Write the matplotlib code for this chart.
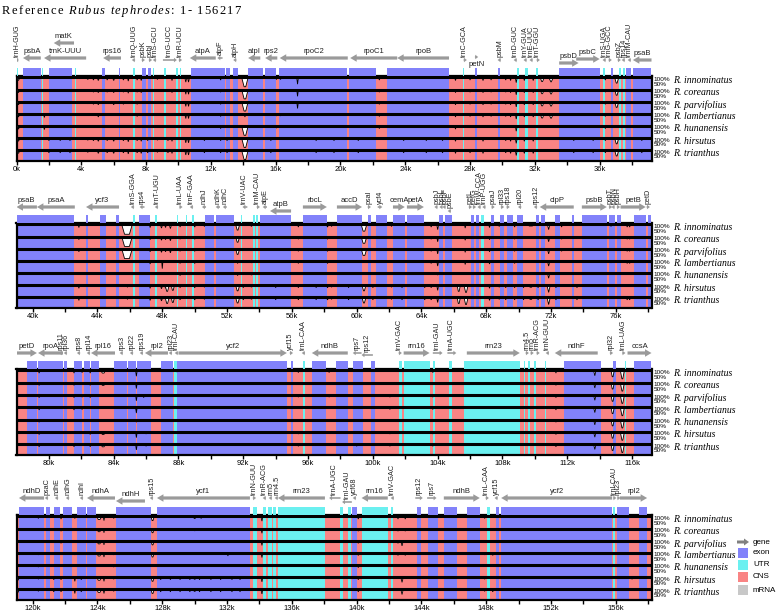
import matplotlib.pyplot as plt
from matplotlib.patches import Polygon
from matplotlib.transforms import IdentityTransform

plt.rcParams['font.family'] = ['Liberation Sans', 'DejaVu Sans']

EXON = '#8282FA'
UTR = '#6BF0F0'
CNS = '#F98484'
MRNA = '#C8C8C8'
ARROW = '#9A9A9A'
colors = {'E': EXON, 'U': UTR}

species = ['R. innominatus', 'R. coreanus', 'R. parvifolius', 'R. lambertianus',
           'R. hunanensis', 'R. hirsutus', 'R. trianthus']

panel_start = [0.0, 39.0, 78.0, 119.0]
panel_span = 39.2

# annotated blocks (start kb, end kb, E=exon / U=UTR); everything else is CNS
feat1 = [(0.0, 0.12, 'U'), (0.4, 1.5, 'E'), (1.55, 1.62, 'U'), (2.0, 3.45, 'E'),
         (3.6, 3.7, 'U'), (5.3, 5.45, 'E'), (6.3, 6.42, 'E'), (7.2, 7.3, 'U'),
         (7.75, 8.0, 'E'), (8.12, 8.3, 'E'), (8.4, 8.5, 'U'), (9.1, 9.2, 'U'),
         (9.85, 9.95, 'U'), (10.08, 10.18, 'U'), (10.75, 12.85, 'E'), (12.95, 13.15, 'E'),
         (13.35, 13.65, 'E'), (14.3, 15.2, 'E'), (15.35, 16.05, 'E'), (16.2, 20.4, 'E'),
         (20.55, 22.2, 'E'), (22.9, 26.7, 'E'), (27.55, 27.65, 'U'), (28.3, 28.42, 'E'),
         (29.7, 29.85, 'E'), (30.9, 31.0, 'U'), (31.4, 31.55, 'U'), (32.05, 32.2, 'U'),
         (33.5, 36.05, 'E'), (36.2, 36.35, 'U'), (36.7, 36.85, 'E'), (37.2, 37.3, 'U'),
         (37.45, 37.55, 'U'), (37.65, 37.95, 'E'), (38.05, 39.2, 'E')]
feat2 = [(39.0, 42.55, 'E'), (43.29, 43.4, 'E'), (44.15, 44.5, 'E'), (45.14, 45.33, 'E'),
         (46.2, 46.3, 'U'), (46.56, 47.24, 'E'), (47.55, 47.67, 'U'), (48.9, 49.0, 'U'),
         (49.45, 49.55, 'U'), (49.85, 49.95, 'U'), (50.65, 51.2, 'E'), (51.3, 52.4, 'E'),
         (52.85, 52.95, 'U'), (53.6, 53.7, 'U'), (53.8, 53.9, 'U'), (54.03, 55.95, 'E'),
         (56.7, 58.15, 'E'), (58.8, 60.3, 'E'), (60.7, 60.9, 'E'), (61.2, 61.85, 'E'),
         (62.25, 63.0, 'E'), (63.1, 64.15, 'E'), (65.1, 65.35, 'E'), (65.45, 65.9, 'E'),
         (67.05, 67.25, 'E'), (67.37, 67.55, 'E'), (67.68, 67.85, 'U'), (68.28, 68.47, 'E'),
         (68.85, 69.1, 'E'), (69.27, 69.65, 'E'), (69.88, 70.25, 'E'), (71.05, 71.24, 'E'),
         (71.36, 71.61, 'E'), (72.23, 72.54, 'E'), (73.28, 73.4, 'E'), (73.9, 75.44, 'E'),
         (75.56, 75.93, 'E'), (76.05, 76.3, 'E'), (77.1, 77.84, 'E'), (77.96, 78.15, 'E')]
feat3 = [(78.65, 79.26, 'E'), (79.33, 80.87, 'E'), (80.93, 81.12, 'E'), (81.55, 82.04, 'E'),
         (82.16, 82.53, 'E'), (82.6, 83.09, 'E'), (84.02, 84.82, 'E'), (84.88, 85.37, 'E'),
         (85.43, 86.3, 'E'), (86.92, 87.66, 'E'), (87.72, 87.9, 'U'), (87.9, 94.69, 'E'),
         (94.95, 95.05, 'E'), (95.7, 95.8, 'U'), (96.25, 97.1, 'E'), (97.72, 98.45, 'E'),
         (98.78, 99.4, 'E'), (99.88, 100.15, 'E'), (101.6, 101.8, 'U'), (101.9, 103.5, 'U'),
         (103.7, 103.85, 'U'), (104.7, 104.9, 'U'), (105.6, 109.1, 'U'), (109.3, 109.4, 'U'),
         (109.55, 109.7, 'U'), (109.95, 110.05, 'U'), (110.6, 110.7, 'U'), (111.8, 114.1, 'E'),
         (114.8, 115.0, 'E'), (115.55, 115.65, 'U'), (116.1, 117.2, 'E')]
feat4 = [(119.15, 120.7, 'E'), (120.82, 121.07, 'E'), (121.31, 121.68, 'E'), (121.87, 122.42, 'E'),
         (122.73, 123.29, 'E'), (123.35, 123.9, 'E'), (125.14, 127.3, 'E'), (127.67, 133.41, 'E'),
         (133.6, 133.85, 'U'), (134.21, 134.4, 'U'), (134.52, 134.77, 'U'), (134.83, 135.01, 'U'),
         (135.14, 138.04, 'U'), (138.96, 139.15, 'U'), (139.45, 139.64, 'U'), (139.7, 140.0, 'E'),
         (140.3, 141.92, 'U'), (142.1, 142.23, 'U'), (143.72, 144.0, 'E'), (144.4, 145.0, 'E'),
         (145.38, 146.18, 'E'), (146.8, 147.6, 'E'), (148.03, 148.22, 'U'), (148.6, 148.8, 'E'),
         (148.92, 155.77, 'E'), (155.84, 155.96, 'U'), (156.08, 156.82, 'E'), (157.44, 157.93, 'E')]

# genes: (name, start, end, strand, label style h/v/b, arrow height px above box)
genes1 = [('trnH-GUG', 0.0, 0.12, -1, 'v', 16), ('psbA', 0.4, 1.5, -1, 'h', 18),
          ('trnK-UUU', 1.7, 4.3, -1, 'h', 18), ('matK', 2.3, 3.55, -1, 'h', 33),
          ('rps16', 5.35, 6.45, -1, 'h', 18), ('trnQ-UUG', 7.18, 7.32, -1, 'v', 16),
          ('psbK', 7.73, 7.87, 1, 'v', 16), ('psbI', 8.17, 8.31, 1, 'v', 16),
          ('trnS-GCU', 8.48, 8.62, -1, 'v', 16), ('trnG-UCC', 9.04, 9.9, 1, 'v', 16),
          ('trnR-UCU', 10.02, 10.16, 1, 'v', 16), ('atpA', 10.7, 12.3, -1, 'h', 18),
          ('atpF', 12.4, 12.72, -1, 'v', 18), ('atpH', 13.38, 13.58, -1, 'v', 16),
          ('atpI', 14.3, 15.05, -1, 'h', 18), ('rps2', 15.35, 16.1, -1, 'h', 18),
          ('rpoC2', 16.25, 20.45, -1, 'h', 18), ('rpoC1', 20.6, 23.5, -1, 'h', 18),
          ('rpoB', 23.5, 26.7, -1, 'h', 18), ('trnC-GCA', 27.6, 27.74, 1, 'v', 16),
          ('petN', 28.3, 28.5, 1, 'b', 19), ('psbM', 29.76, 29.9, -1, 'v', 16),
          ('trnD-GUC', 30.75, 30.89, -1, 'v', 16), ('trnY-GUA', 31.36, 31.5, -1, 'v', 16),
          ('trnE-UUC', 31.73, 31.87, -1, 'v', 16), ('trnT-GGU', 32.11, 32.25, 1, 'v', 16),
          ('psbD', 33.5, 34.7, 1, 'h', 13), ('psbC', 34.55, 36.0, 1, 'h', 17),
          ('trnS-UGA', 36.24, 36.38, -1, 'v', 16), ('trnG-GCC', 36.55, 36.69, 1, 'v', 16),
          ('psbZ', 37.11, 37.25, 1, 'v', 16), ('rps14', 37.42, 37.56, -1, 'v', 16),
          ('trnfM-CAU', 37.79, 37.93, -1, 'v', 16), ('psaB', 38.05, 39.2, -1, 'h', 16)]
genes2 = [('psaB', 39.0, 40.26, -1, 'h', 16), ('psaA', 40.26, 42.6, -1, 'h', 16),
          ('ycf3', 43.29, 45.33, -1, 'h', 16), ('trnS-GGA', 46.12, 46.26, -1, 'v', 16),
          ('rps4', 46.6, 46.9, -1, 'v', 16), ('trnT-UGU', 47.6, 47.74, -1, 'v', 16),
          ('trnL-UAA', 49.05, 49.25, 1, 'v', 16), ('trnF-GAA', 49.76, 49.9, -1, 'v', 16),
          ('ndhJ', 50.45, 50.7, -1, 'v', 16), ('ndhK', 51.3, 51.56, -1, 'v', 16),
          ('ndhC', 51.74, 51.98, -1, 'v', 16), ('trnV-UAC', 52.95, 53.25, -1, 'v', 16),
          ('trnM-CAU', 53.83, 53.97, 1, 'v', 16), ('atpE', 54.2, 54.46, -1, 'v', 16),
          ('atpB', 54.65, 55.95, -1, 'h', 12), ('rbcL', 56.68, 58.16, 1, 'h', 16),
          ('accD', 58.78, 60.33, 1, 'h', 16), ('psaI', 60.68, 60.84, 1, 'v', 16),
          ('ycf4', 61.3, 61.58, 1, 'v', 16), ('cemA', 62.24, 62.97, 1, 'h', 16),
          ('petA', 63.1, 64.15, 1, 'h', 16), ('psbJ', 64.88, 65.0, -1, 'v', 16),
          ('psbL', 65.19, 65.31, -1, 'v', 16), ('psbF', 65.38, 65.5, -1, 'v', 16),
          ('psbE', 65.68, 65.82, -1, 'v', 12), ('petL', 66.92, 67.04, 1, 'v', 16),
          ('petG', 67.17, 67.29, 1, 'v', 16), ('trnW-CCA', 67.54, 67.66, -1, 'v', 16),
          ('trnP-UGG', 67.84, 67.96, -1, 'v', 16), ('psaJ', 68.32, 68.48, 1, 'v', 16),
          ('rpl33', 68.9, 69.02, 1, 'v', 16), ('rps18', 69.25, 69.41, 1, 'v', 16),
          ('rpl20', 69.98, 70.16, -1, 'v', 16), ('rps12', 70.98, 71.14, -1, 'v', 16),
          ('clpP', 71.3, 73.4, -1, 'h', 16), ('psbB', 73.9, 75.44, 1, 'h', 16),
          ('psbT', 75.57, 75.69, 1, 'v', 16), ('psbN', 75.81, 75.93, -1, 'v', 16),
          ('psbH', 76.06, 76.18, 1, 'v', 16), ('petB', 76.29, 77.84, 1, 'h', 16),
          ('petD', 77.9, 78.02, 1, 'v', 16)]
genes3 = [('petD', 78.0, 79.26, 1, 'h', 16), ('rpoA', 79.33, 80.87, -1, 'h', 16),
          ('rps11', 80.68, 80.82, -1, 'v', 16), ('rpl36', 80.98, 81.12, -1, 'v', 16),
          ('rps8', 81.79, 81.93, -1, 'v', 16), ('rpl14', 82.4, 82.54, -1, 'v', 16),
          ('rpl16', 82.6, 84.08, -1, 'h', 16), ('rps3', 84.43, 84.57, -1, 'v', 16),
          ('rpl22', 85.06, 85.2, -1, 'v', 16), ('rps19', 85.67, 85.81, -1, 'v', 16),
          ('rpl2', 85.93, 87.35, -1, 'h', 16), ('rpl23', 87.46, 87.6, -1, 'v', 16),
          ('trnI-CAU', 87.83, 87.97, -1, 'v', 16), ('ycf2', 88.0, 94.69, 1, 'h', 16),
          ('ycf15', 94.87, 95.01, 1, 'v', 16), ('trnL-CAA', 95.67, 95.81, -1, 'v', 16),
          ('ndhB', 96.23, 98.45, -1, 'h', 16), ('rps7', 98.76, 99.3, -1, 'v', 16),
          ('rps12', 99.3, 100.0, -1, 'v', 14), ('trnV-GAC', 101.59, 101.73, 1, 'v', 16),
          ('rrn16', 101.9, 103.5, 1, 'h', 16), ('trnI-GAU', 103.7, 104.3, 1, 'v', 16),
          ('trnA-UGC', 104.6, 105.15, 1, 'v', 16), ('rrn23', 105.8, 109.07, 1, 'h', 16),
          ('rrn4.5', 109.43, 109.57, 1, 'v', 16), ('rrn5', 109.73, 109.87, 1, 'v', 16),
          ('trnR-ACG', 110.1, 110.25, 1, 'v', 16), ('trnN-GUU', 110.73, 110.87, -1, 'v', 16),
          ('ndhF', 111.23, 113.88, -1, 'h', 16), ('rpl32', 114.63, 114.77, 1, 'v', 16),
          ('trnL-UAG', 115.39, 115.53, 1, 'v', 16), ('ccsA', 115.72, 117.2, 1, 'h', 16)]
genes4 = [('ndhD', 119.15, 120.7, -1, 'h', 17), ('psaC', 120.81, 120.95, -1, 'v', 17),
          ('ndhE', 121.43, 121.57, -1, 'v', 17), ('ndhG', 122.1, 122.25, -1, 'v', 17),
          ('ndhI', 122.97, 123.11, -1, 'v', 17), ('ndhA', 123.35, 125.08, -1, 'h', 17),
          ('ndhH', 125.14, 126.93, -1, 'h', 14), ('rps15', 127.29, 127.43, -1, 'v', 17),
          ('ycf1', 127.67, 133.41, -1, 'h', 17), ('trnN-GUU', 133.59, 133.73, 1, 'v', 17),
          ('trnR-ACG', 134.26, 134.4, -1, 'v', 17), ('rrn5', 134.63, 134.77, -1, 'v', 17),
          ('rrn4.5', 135.0, 135.14, -1, 'v', 17), ('rrn23', 135.14, 138.04, -1, 'h', 17),
          ('trnA-UGC', 138.3, 139.0, -1, 'v', 17), ('trnI-GAU', 139.1, 139.7, -1, 'v', 13),
          ('ycf68', 139.82, 139.96, -1, 'v', 17), ('rrn16', 140.3, 141.92, -1, 'h', 17),
          ('trnV-GAC', 142.16, 142.3, -1, 'v', 17), ('rps12', 143.62, 144.08, 1, 'v', 17),
          ('rps7', 144.35, 144.93, 1, 'v', 17), ('ndhB', 145.38, 147.6, 1, 'h', 17),
          ('trnL-CAA', 147.96, 148.1, 1, 'v', 17), ('ycf15', 148.57, 148.71, -1, 'v', 17),
          ('ycf2', 148.92, 155.77, -1, 'h', 17), ('trnI-CAU', 155.83, 155.97, 1, 'v', 17),
          ('rpl23', 156.08, 156.22, 1, 'v', 17), ('rpl2', 156.25, 157.93, 1, 'h', 17)]

# dips of the identity curve: (centre kb, top width kb, depth 0-1, bottom width kb, tracks)
dips1 = [(0.12, 0.2, 0.3, 0, '0123456'), (1.72, 0.1, 0.35, 0, '34'),
         (4.4, 0.15, 0.2, 0, '01256'), (4.75, 0.12, 0.25, 0, '0125'),
         (5.05, 0.15, 0.3, 0, '012356'), (5.6, 0.1, 0.25, 0, '0156'),
         (6.0, 0.15, 0.3, 0, '01256'), (6.6, 0.12, 0.25, 0, '01256'),
         (6.9, 0.1, 0.35, 0, '0156'), (7.45, 0.1, 0.25, 0, '012356'),
         (7.7, 0.1, 0.3, 0, '0156'), (8.7, 0.1, 0.2, 0, '01256'),
         (9.6, 0.1, 0.3, 0, '0156'), (10.45, 0.12, 0.45, 0, '012356'),
         (10.62, 0.12, 0.45, 0, '012356'), (12.6, 0.1, 0.25, 0, '0123456'),
         (14.1, 0.4, 0.9, 0.1, '012456'), (14.1, 0.12, 0.3, 0, '3'),
         (16.05, 0.1, 0.2, 0, '01234'), (16.3, 0.1, 0.2, 0, '0123'),
         (17.35, 0.1, 0.65, 0, '012'), (22.4, 0.1, 0.25, 0, '01234'),
         (27.1, 0.1, 0.3, 0, '0123456'), (28.0, 0.1, 0.25, 0, '01236'),
         (28.8, 0.12, 0.3, 0, '012356'), (29.3, 0.1, 0.25, 0, '0123'),
         (30.2, 0.1, 0.25, 0, '012356'), (30.5, 0.1, 0.3, 0, '012356'),
         (30.85, 0.12, 0.5, 0, '0123456'), (31.35, 0.1, 0.3, 0, '012356'),
         (31.9, 0.12, 0.3, 0, '012356'), (32.45, 0.25, 0.4, 0.05, '0123'),
         (33.0, 0.3, 0.45, 0, '0123'), (36.35, 0.1, 0.25, 0, '0123456'),
         (37.05, 0.25, 0.55, 0.05, '01256'),
         (2.0, 0.1, 0.25, 0, '56'), (2.7, 0.1, 0.25, 0, '56'), (3.3, 0.1, 0.25, 0, '56'),
         (8.1, 0.1, 0.25, 0, '56'), (9.35, 0.1, 0.25, 0, '56'), (11.6, 0.1, 0.25, 0, '56'),
         (13.0, 0.1, 0.25, 0, '56'), (15.7, 0.1, 0.25, 0, '56'), (18.5, 0.1, 0.25, 0, '56'),
         (19.6, 0.1, 0.25, 0, '56'), (21.1, 0.1, 0.25, 0, '56'), (23.9, 0.1, 0.25, 0, '56'),
         (25.3, 0.1, 0.25, 0, '56'), (26.3, 0.1, 0.25, 0, '56'), (34.4, 0.1, 0.25, 0, '56'),
         (35.6, 0.1, 0.25, 0, '56'), (38.6, 0.1, 0.25, 0, '56')]
dips2 = [(42.85, 0.1, 0.3, 0, '01256'), (45.82, 0.65, 0.95, 0.3, '012'),
         (45.85, 0.1, 0.2, 0, '56'), (47.25, 0.1, 0.3, 0, '012356'),
         (47.95, 0.15, 0.35, 0, '01256'), (48.2, 0.12, 0.3, 0, '0125'),
         (48.5, 0.15, 0.4, 0, '012'), (48.0, 0.08, 0.75, 0, '3'),
         (48.3, 0.25, 0.6, 0.05, '56'), (48.65, 0.2, 0.5, 0.05, '56'),
         (49.1, 0.1, 0.25, 0, '0123456'), (50.0, 0.15, 0.25, 0, '012356'),
         (50.6, 0.1, 0.2, 0, '0156'), (52.65, 0.25, 0.55, 0.05, '01256'),
         (52.65, 0.1, 0.25, 0, '34'), (53.5, 0.1, 0.2, 0, '0123456'),
         (56.4, 0.1, 0.25, 0, '012356'), (58.2, 0.15, 0.25, 0, '012356'),
         (58.45, 0.1, 0.2, 0, '0156'), (60.45, 0.35, 0.65, 0.1, '012'),
         (60.45, 0.25, 0.55, 0.05, '56'), (62.15, 0.1, 0.2, 0, '0156'),
         (64.6, 0.12, 0.25, 0, '012356'), (65.0, 0.12, 0.5, 0, '012356'),
         (65.0, 0.08, 0.2, 0, '4'), (66.3, 0.2, 0.6, 0.05, '56'),
         (66.75, 0.25, 0.7, 0.05, '56'), (66.7, 0.1, 0.35, 0, '0123'),
         (68.2, 0.1, 0.3, 0, '012356'), (68.8, 0.1, 0.2, 0, '0156'),
         (69.75, 0.1, 0.25, 0, '012356'), (70.75, 0.3, 0.15, 0.2, '0123'),
         (70.75, 0.2, 0.2, 0.1, '56'), (71.85, 0.15, 0.5, 0, '01234'),
         (71.85, 0.2, 0.7, 0, '56'), (72.65, 0.1, 0.25, 0, '012'),
         (75.7, 0.08, 0.2, 0, '0123'), (76.7, 0.12, 0.25, 0, '01236'),
         (76.85, 0.12, 0.25, 0, '01236'),
         (53.0, 0.1, 0.25, 0, '56'), (55.0, 0.1, 0.25, 0, '56'), (57.5, 0.1, 0.25, 0, '56'),
         (59.5, 0.1, 0.25, 0, '56'), (61.0, 0.1, 0.25, 0, '56'), (62.8, 0.1, 0.25, 0, '56'),
         (64.2, 0.1, 0.25, 0, '56'), (69.2, 0.1, 0.25, 0, '56'), (70.3, 0.1, 0.25, 0, '56'),
         (71.2, 0.1, 0.25, 0, '56'), (72.3, 0.1, 0.25, 0, '56'), (73.6, 0.1, 0.25, 0, '56')]
dips3 = [(79.4, 0.1, 0.25, 0, '0123456'), (81.55, 0.1, 0.25, 0, '01236'),
         (82.05, 0.1, 0.2, 0, '0123'), (82.55, 0.1, 0.25, 0, '01256'),
         (83.35, 0.3, 0.25, 0.1, '0156'), (85.4, 0.1, 0.55, 0, '012356'),
         (85.4, 0.08, 0.25, 0, '34'), (85.85, 0.1, 0.25, 0, '2'),
         (86.0, 0.1, 0.2, 0, '56'), (87.9, 0.06, 0.15, 0, '0123456'),
         (95.4, 0.1, 0.2, 0, '01256'), (97.3, 0.1, 0.2, 0, '012'),
         (99.0, 0.1, 0.2, 0, '6'), (101.05, 0.1, 0.2, 0, '23456'),
         (103.7, 0.1, 0.2, 0, '0123456'), (111.3, 0.1, 0.25, 0, '0123456'),
         (113.7, 0.15, 0.5, 0, '0123456'), (114.8, 0.2, 0.6, 0.05, '0123456'),
         (115.4, 0.25, 0.8, 0.05, '0123456')]
dips4 = [(119.1, 0.15, 0.3, 0, '56'), (120.35, 0.08, 0.2, 0, '0123456'),
         (121.75, 0.1, 0.25, 0, '01256'), (122.6, 0.1, 0.4, 0, '56'),
         (122.6, 0.08, 0.2, 0, '0123'), (124.1, 0.3, 0.3, 0.1, '012356'),
         (124.4, 0.1, 0.4, 0, '012356'), (125.0, 0.08, 0.2, 0, '0123456'),
         (127.4, 0.2, 0.4, 0.05, '012356'), (130.0, 0.2, 0.2, 0.05, '0156'),
         (130.4, 0.1, 0.2, 0, '01'), (132.05, 0.1, 0.3, 0, '3'),
         (134.15, 0.12, 0.45, 0, '012356'), (140.1, 0.1, 0.25, 0, '0123456'),
         (142.55, 0.1, 0.25, 0, '0123'), (143.0, 0.1, 0.25, 0, '013'),
         (142.8, 0.15, 0.5, 0, '256'), (147.9, 0.08, 0.2, 0, '012356'),
         (148.4, 0.1, 0.25, 0, '36'), (155.8, 0.06, 0.15, 0, '0123456'),
         (157.0, 0.1, 0.2, 0, '5'),
         (121.3, 0.1, 0.25, 0, '56'), (123.0, 0.1, 0.25, 0, '56'), (127.9, 0.1, 0.25, 0, '56'),
         (128.5, 0.1, 0.25, 0, '56'), (129.1, 0.1, 0.25, 0, '56'), (129.7, 0.1, 0.25, 0, '56'),
         (130.3, 0.1, 0.25, 0, '56'), (131.0, 0.1, 0.25, 0, '56'), (131.6, 0.1, 0.25, 0, '56'),
         (132.3, 0.1, 0.25, 0, '56'), (132.8, 0.1, 0.25, 0, '56')]

feats = [feat1, feat2, feat3, feat4]
genes = [genes1, genes2, genes3, genes4]
dips = [dips1, dips2, dips3, dips4]

W, H = 780, 612
fig = plt.figure(figsize=(7.8, 6.12), dpi=100)

# pixel layout per panel: top of gene area, top of box, bottom of box
layout = [(0, 76, 161), (158, 223, 308), (318, 369, 455), (465, 515, 600)]

for p in range(4):
    s = panel_start[p]
    e = s + panel_span
    g_top, b_top, b_bot = layout[p]
    ax = fig.add_axes([16.5 / W, 1 - b_bot / H, 635 / W, (b_bot - b_top) / H])
    gx = fig.add_axes([16.5 / W, 1 - b_top / H, 635 / W, (b_top - g_top) / H])

    # tracks
    ax.set_xlim(s, e)
    ax.set_ylim(0, 7)
    ax.set_facecolor(CNS)
    for a, b, k in feats[p]:
        ax.axvspan(a, b, color=colors[k], lw=0)
    for i in range(7):
        ax.hlines(7 - i - 0.12, s, e, color='black', lw=2.2, zorder=4)
    for c, w, d, bw, tr in dips[p]:
        for t in tr:
            top = 7 - int(t) - 0.12
            bot = top - d * 0.85
            pts = [(c - w / 2, top), (c - bw / 2, bot), (c + bw / 2, bot), (c + w / 2, top)]
            ax.add_patch(Polygon(pts, closed=True, fc='white', ec='black', lw=0.6, zorder=3))
    for sp in ax.spines.values():
        sp.set_linewidth(1.6)
    ax.set_yticks([])
    first = int(s // 4 + 1) * 4 if s % 4 else int(s)
    major = list(range(first, int(e) + 1, 4))
    minor = [m + 2 for m in major if m + 2 < e] + ([first - 2] if first - 2 > s else [])
    ax.set_xticks(major)
    ax.set_xticklabels([f'{m}k' for m in major])
    ax.set_xticks(minor, minor=True)
    ax.tick_params(axis='x', which='both', direction='out', length=3, width=1,
                   labelsize=5.5, pad=0.8)

    for i, name in enumerate(species):
        tr = ax.get_yaxis_transform()
        ax.text(1.003, 7 - i - 0.28, '100%', transform=tr, fontsize=4.6, va='center')
        ax.text(1.003, 7 - i - 0.66, '50%', transform=tr, fontsize=4.6, va='center')
        ax.text(1.034, 7 - i - 0.36, name, transform=tr, fontsize=7, va='center',
                family='Liberation Serif', style='italic')

    # annotation strip and genes
    gx.set_xlim(s, e)
    gx.set_ylim(0, b_top - g_top)
    gx.axis('off')
    for a, b, k in feats[p]:
        gx.bar(a, 8.5, width=b - a, bottom=0, align='edge', color=colors[k], lw=0)
    for name, a, b, strand, style, y in genes[p]:
        L = b - a
        if style == 'h':
            wd, hw, hl = 3.2, 7.5, min(0.4, L)
        else:
            wd, hw, hl = 1.6, 4.5, 0.18
            L = max(L, 0.2)
        x0 = b if strand < 0 else a
        gx.arrow(x0, y, strand * L, 0, width=wd, head_width=hw, head_length=hl,
                 length_includes_head=True, fc=ARROW, ec='none')
        xm = (a + b) / 2
        if style == 'h':
            gx.text(xm, y + 3, name, ha='center', va='bottom', fontsize=5.5, color='#222222')
        elif style == 'b':
            gx.text(xm, y - 3.5, name, ha='center', va='top', fontsize=5.5, color='#222222')
        else:
            gx.text(xm, y + 3.2, name, ha='center', va='bottom', rotation=90,
                    fontsize=5.2, color='#222222')

# legend
lax = fig.add_axes([730 / W, 1 - 602 / H, 50 / W, 66 / H])
lax.set_xlim(0, 50)
lax.set_ylim(602, 536)
lax.axis('off')
lax.arrow(7, 542, 12, 0, width=3, head_width=7, head_length=5,
          length_includes_head=True, fc='#808080', ec='none')
lax.text(23, 542, 'gene', va='center', fontsize=5.8)
leg_items = [('exon', EXON, 553), ('UTR', UTR, 565), ('CNS', CNS, 577), ('mRNA', MRNA, 590)]
for lab, col, yy in leg_items:
    lax.bar(8, 10, width=10, bottom=yy - 5, align='edge', color=col, lw=0)
    lax.text(23, yy, lab, va='center', fontsize=5.8)

# title with letter spacing
renderer = fig.canvas.get_renderer()
x = 2
y = H - 14
title_parts = [('Reference ', 'normal'), ('Rubus tephrodes', 'italic'), (': 1- 156217', 'normal')]
for txt, st in title_parts:
    for ch in txt:
        if ch == ' ':
            x += 4
            continue
        t = fig.text(x, y, ch, transform=IdentityTransform(), fontsize=9,
                     family='Liberation Serif', style=st, va='baseline')
        x += t.get_window_extent(renderer).width + 1.3

fig.savefig('out.png', dpi=100)
